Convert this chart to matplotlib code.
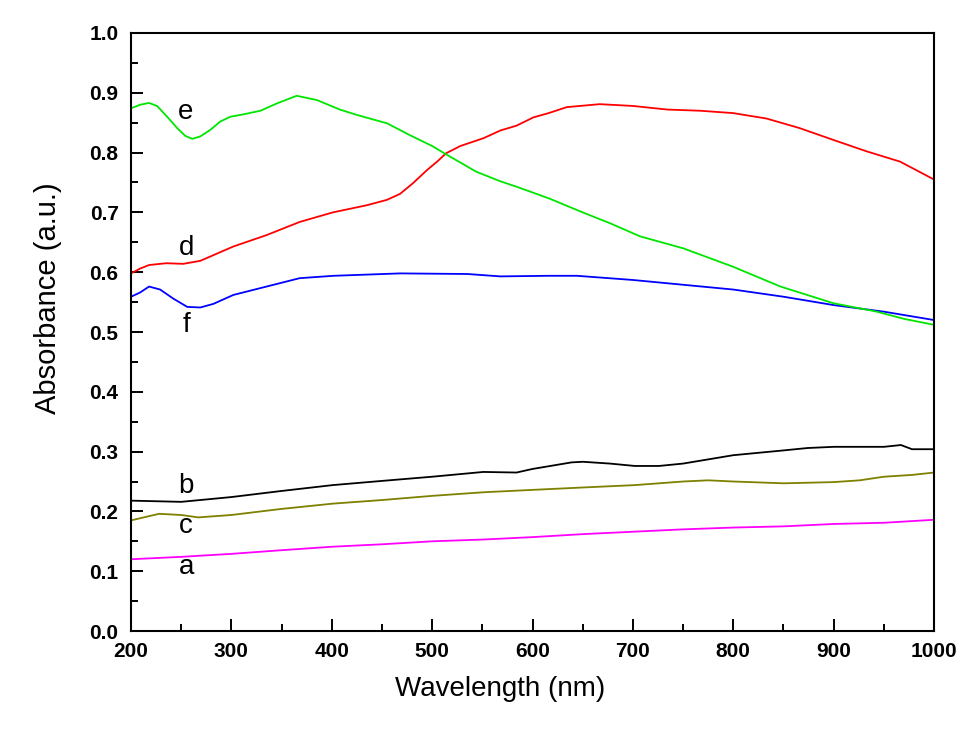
import matplotlib
matplotlib.use("Agg")
import matplotlib.pyplot as plt
from matplotlib.ticker import MultipleLocator

plt.rcParams['font.family'] = ['Liberation Sans', 'DejaVu Sans']

# curve e (green)
e_x = [200, 209, 218, 226, 236, 246, 254, 261, 269, 279, 289, 299, 312, 329, 345,
       365, 385, 408, 425, 455, 478, 500, 515, 544, 568, 584, 617, 650, 677, 707,
       750, 800, 847, 900, 943, 970, 1000]
e_y = [0.874, 0.880, 0.883, 0.878, 0.860, 0.841, 0.828, 0.823, 0.827, 0.838, 0.852,
       0.860, 0.864, 0.870, 0.882, 0.895, 0.888, 0.872, 0.863, 0.849, 0.829, 0.811,
       0.796, 0.768, 0.752, 0.743, 0.723, 0.700, 0.682, 0.660, 0.640, 0.609, 0.576,
       0.548, 0.534, 0.522, 0.512]

# curve d (red)
d_x = [200, 209, 218, 235, 252, 269, 302, 335, 368, 401, 435, 455, 468, 481, 495,
       505, 514, 528, 551, 568, 584, 601, 616, 634, 667, 700, 734, 767, 800, 833,
       866, 900, 933, 966, 1000]
d_y = [0.598, 0.606, 0.612, 0.615, 0.614, 0.619, 0.643, 0.662, 0.684, 0.700, 0.712,
       0.721, 0.731, 0.749, 0.771, 0.785, 0.799, 0.811, 0.824, 0.837, 0.845, 0.859,
       0.866, 0.876, 0.881, 0.878, 0.872, 0.870, 0.866, 0.857, 0.841, 0.821, 0.802,
       0.785, 0.755]

# curve f (blue)
f_x = [200, 209, 218, 229, 242, 256, 269, 282, 302, 335, 368, 402, 468, 535, 568,
       616, 644, 700, 750, 800, 850, 900, 950, 1000]
f_y = [0.559, 0.566, 0.576, 0.571, 0.556, 0.542, 0.541, 0.547, 0.562, 0.576, 0.590,
       0.594, 0.598, 0.597, 0.593, 0.594, 0.594, 0.587, 0.579, 0.571, 0.559, 0.545,
       0.534, 0.520]

# curve b (black)
b_x = [200, 250, 300, 349, 401, 450, 500, 551, 584, 600, 639, 650, 677, 702, 726,
       750, 775, 800, 825, 850, 874, 900, 950, 967, 978, 1000]
b_y = [0.218, 0.216, 0.224, 0.234, 0.244, 0.251, 0.258, 0.266, 0.265, 0.271, 0.282,
       0.283, 0.280, 0.276, 0.276, 0.280, 0.287, 0.294, 0.298, 0.302, 0.306, 0.308,
       0.308, 0.311, 0.304, 0.304]

# curve c (olive)
c_x = [200, 228, 250, 267, 300, 349, 401, 450, 500, 551, 600, 650, 702, 750, 775,
       800, 850, 900, 926, 950, 978, 1000]
c_y = [0.185, 0.196, 0.194, 0.190, 0.194, 0.204, 0.213, 0.219, 0.226, 0.232, 0.236,
       0.240, 0.244, 0.250, 0.252, 0.250, 0.247, 0.249, 0.252, 0.258, 0.261, 0.265]

# curve a (magenta)
a_x = [200, 250, 300, 349, 401, 450, 500, 551, 600, 650, 700, 750, 800, 850, 900,
       950, 1000]
a_y = [0.120, 0.124, 0.129, 0.135, 0.141, 0.145, 0.150, 0.153, 0.157, 0.162, 0.166,
       0.170, 0.173, 0.175, 0.179, 0.181, 0.186]

labels = ['e', 'd', 'f', 'b', 'c', 'a']
label_pos = [(254, 0.856), (255, 0.629), (255, 0.500), (255, 0.231), (255, 0.164), (255, 0.096)]

fig = plt.figure(figsize=(9.74, 7.30), dpi=100)
ax = fig.add_axes([0.1345, 0.1356, 0.8245, 0.8192])

ax.plot(a_x, a_y, color='#FF00FF', lw=1.3)
ax.plot(c_x, c_y, color='#808000', lw=1.3)
ax.plot(b_x, b_y, color='#000000', lw=1.3)
ax.plot(f_x, f_y, color='#0000FF', lw=1.3)
ax.plot(d_x, d_y, color='#FF0000', lw=1.3)
ax.plot(e_x, e_y, color='#00E600', lw=1.3)

for lab, (lx, ly) in zip(labels, label_pos):
    ax.text(lx, ly, lab, fontsize=20, ha='center', va='baseline')

ax.set_xlim(200, 1000)
ax.set_ylim(0, 1.0)
ax.xaxis.set_major_locator(MultipleLocator(100))
ax.xaxis.set_minor_locator(MultipleLocator(50))
ax.yaxis.set_major_locator(MultipleLocator(0.1))
ax.yaxis.set_minor_locator(MultipleLocator(0.05))
ax.tick_params(which='both', direction='in', top=False, right=False, width=1.4)
ax.tick_params(which='major', length=8.6, labelsize=15)
ax.tick_params(which='minor', length=4.7)
ax.tick_params(axis='x', which='major', pad=8)
ax.tick_params(axis='y', which='major', pad=9)
ax.yaxis.set_major_formatter(plt.FuncFormatter(lambda v, p: f"{v:.1f}"))
for lbl in ax.get_xticklabels() + ax.get_yticklabels():
    lbl.set_fontweight('bold')
for s in ax.spines.values():
    s.set_linewidth(1.5)

ax.set_xlabel('Wavelength (nm)', fontsize=20)
ax.set_ylabel('Absorbance (a.u.)', fontsize=21)
ax.xaxis.set_label_coords(0.46, -0.076)
ax.yaxis.set_label_coords(-0.086, 0.557)

fig.savefig('out.png', dpi=100)
